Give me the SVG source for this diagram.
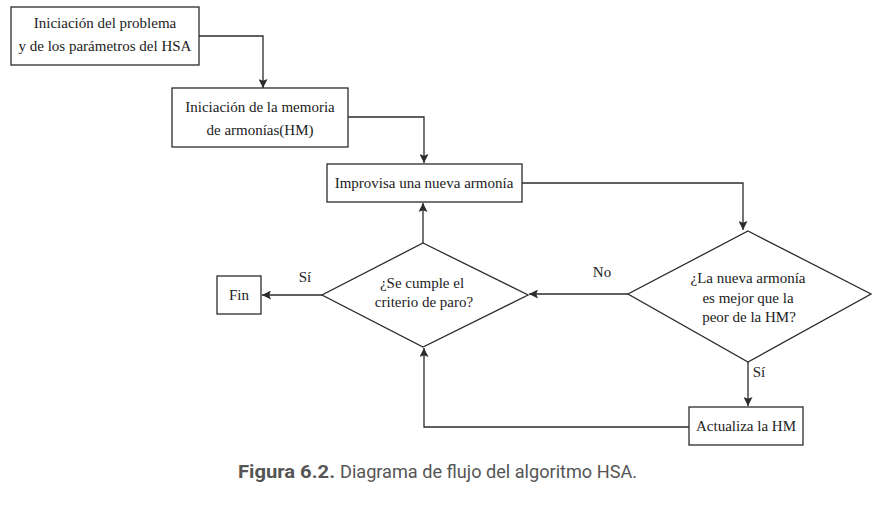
<svg xmlns="http://www.w3.org/2000/svg" width="891" height="517" viewBox="0 0 891 517">
<style>
.box{fill:#fff;stroke:#2b2b2b;stroke-width:1.3}
.t{font-family:"Liberation Serif","Times New Roman",serif;font-size:15px;fill:#222;text-anchor:middle}
.c{fill:none;stroke:#2b2b2b;stroke-width:1.3}
.cap{font-family:Roboto,"Liberation Sans",sans-serif;font-size:19px;fill:#555}
</style>
<defs>
<marker id="ah" viewBox="0 0 10 10" refX="10" refY="5" markerWidth="9" markerHeight="9" markerUnits="userSpaceOnUse" orient="auto">
<path d="M0,0 L10,5 L0,10 L2,5 Z" fill="#2b2b2b"/>
</marker>
</defs>
<rect width="891" height="517" fill="#fff"/>
<g id="connectors">
<path class="c" d="M199,36 H263 V88" marker-end="url(#ah)"/>
<path class="c" d="M348,117 H424 V163" marker-end="url(#ah)"/>
<path class="c" d="M522,183 H743 V230" marker-end="url(#ah)"/>
<path class="c" d="M423,243 V203" marker-end="url(#ah)"/>
<path class="c" d="M322,295 H262" marker-end="url(#ah)"/>
<path class="c" d="M628,294 H529" marker-end="url(#ah)"/>
<path class="c" d="M748,362 V406" marker-end="url(#ah)"/>
<path class="c" d="M689,427 H424 V348" marker-end="url(#ah)"/>
<text class="t" x="305" y="282">Sí</text>
<text class="t" x="602" y="277">No</text>
<text class="t" x="759" y="377">Sí</text>
</g>
<g id="n1">
<rect class="box" x="11" y="7" width="188" height="58"/>
<text class="t" x="105" y="28">Iniciación del problema</text>
<text class="t" x="105" y="51">y de los parámetros del HSA</text>
</g>
<g id="n2">
<rect class="box" x="172" y="88" width="176" height="59"/>
<text class="t" x="260" y="112">Iniciación de la memoria</text>
<text class="t" x="260" y="135">de armonías(HM)</text>
</g>
<g id="n3">
<rect class="box" x="327" y="164" width="195" height="38"/>
<text class="t" x="424" y="188">Improvisa una nueva armonía</text>
</g>
<g id="n4">
<polygon class="box" points="423,243 528,295 423,347 322,295"/>
<text class="t" x="422" y="288">¿Se cumple el</text>
<text class="t" x="424" y="307">criterio de paro?</text>
</g>
<g id="n5">
<rect class="box" x="217" y="276" width="44" height="38"/>
<text class="t" x="239" y="300">Fin</text>
</g>
<g id="n6">
<polygon class="box" points="748,231 871,294 748,362 628,294"/>
<text class="t" x="748" y="283">¿La nueva armonía</text>
<text class="t" x="748" y="303">es mejor que la</text>
<text class="t" x="749" y="322">peor de la HM?</text>
</g>
<g id="n7">
<rect class="box" x="689" y="407" width="114" height="38"/>
<text class="t" x="746" y="431">Actualiza la HM</text>
</g>
<text class="cap" x="238" y="478"><tspan font-weight="bold" textLength="97" lengthAdjust="spacingAndGlyphs">Figura 6.2.</tspan><tspan dx="5" textLength="297" lengthAdjust="spacingAndGlyphs">Diagrama de flujo del algoritmo HSA.</tspan></text>
</svg>
